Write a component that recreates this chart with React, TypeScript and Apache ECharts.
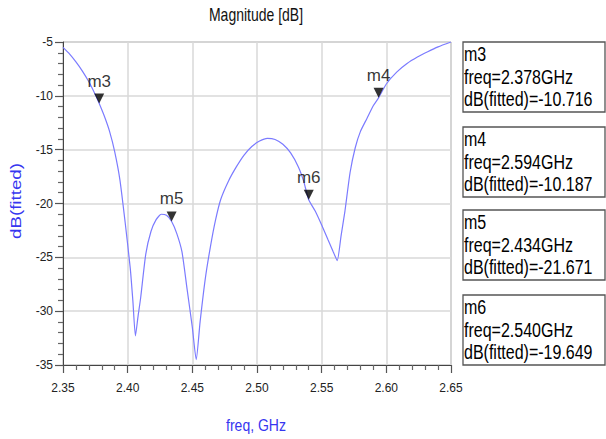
import React, { useEffect, useRef } from "react";
import * as echarts from "echarts";

const freqs = [
  2.35, 2.355, 2.36, 2.365, 2.37, 2.375, 2.378, 2.382, 2.386, 2.39, 2.394, 2.398,
  2.402, 2.404, 2.406, 2.408, 2.41, 2.414, 2.418, 2.422, 2.426, 2.43, 2.434, 2.438,
  2.442, 2.446, 2.45, 2.453, 2.456, 2.46, 2.464, 2.468, 2.472, 2.478, 2.484, 2.49,
  2.496, 2.502, 2.508, 2.514, 2.52, 2.526, 2.532, 2.536, 2.54, 2.545, 2.55, 2.555,
  2.559, 2.562, 2.565, 2.568, 2.572, 2.576, 2.58, 2.585, 2.59, 2.594, 2.6, 2.608,
  2.616, 2.624, 2.632, 2.64, 2.65,
];
const dbValues = [
  -5.5, -6.1, -6.85, -7.7, -8.7, -9.9, -10.716, -11.9, -13.3, -15.2, -17.8, -21.7,
  -26.0, -29.0, -32.3, -30.5, -28.8, -24.7, -22.6, -21.5, -21.0, -21.1, -21.671, -22.8,
  -24.5, -28.0, -31.5, -34.5, -31.0, -27.0, -24.0, -21.5, -19.6, -17.9, -16.6, -15.5,
  -14.7, -14.2, -13.95, -14.05, -14.5, -15.3, -16.6, -17.9, -19.649, -20.7, -22.0, -23.4,
  -24.5, -25.3, -23.0, -20.7, -17.1, -14.8, -13.3, -12.1, -10.9, -10.187, -8.9, -7.8,
  -7.0, -6.4, -5.9, -5.45, -5.0,
];
const markerNames = ["m3", "m4", "m5", "m6"];
const markerFreqs = [2.378, 2.594, 2.434, 2.54];
const markerValues = [-10.716, -10.187, -21.671, -19.649];

const titleText = "Magnitude [dB]";
const xName = "freq, GHz";
const yName = "dB(fitted)";

export default function App() {
  const ref = useRef<HTMLDivElement>(null);
  useEffect(() => {
    if (!ref.current) return;
    const chart = echarts.init(ref.current, null, { renderer: "svg" });
    const font = "Liberation Sans, Arial, sans-serif";
    const boxTops = [42, 127, 210, 295];
    const boxes = markerNames.map((n, i) => ({
      type: "group",
      children: [
        {
          type: "rect",
          shape: { x: 463, y: boxTops[i], width: 142, height: 70 },
          style: { fill: "#fff", stroke: "#555", lineWidth: 1.3 },
        },
        {
          type: "text",
          x: 464,
          y: boxTops[i] + 1.5,
          scaleY: 1.25,
          style: {
            text:
              n +
              "\nfreq=" +
              markerFreqs[i].toFixed(3) +
              "GHz\ndB(fitted)=" +
              markerValues[i].toFixed(3),
            fontSize: 16,
            lineHeight: 18,
            fontFamily: font,
            fill: "#000",
            align: "left",
            verticalAlign: "top",
          },
        },
      ],
    }));
    chart.setOption({
      animation: false,
      grid: {
        left: 63,
        right: 155,
        top: 42,
        bottom: 74,
        show: true,
        borderColor: "#999",
        borderWidth: 1,
      },
      xAxis: {
        type: "value",
        min: 2.35,
        max: 2.65,
        interval: 0.05,
        axisLine: { lineStyle: { color: "#444", width: 1 } },
        axisTick: { show: true, length: 8, inside: false, lineStyle: { color: "#555", width: 1.2 } },
        minorTick: { show: true, splitNumber: 5, length: 5, lineStyle: { color: "#666", width: 1.2 } },
        splitLine: { show: true, lineStyle: { color: "#d8d8d8", width: 1.5 } },
        axisLabel: {
          margin: 17,
          fontSize: 12,
          color: "#222",
          fontFamily: font,
          formatter: (v: number) => v.toFixed(2),
        },
      },
      yAxis: {
        type: "value",
        min: -35,
        max: -5,
        interval: 5,
        axisLine: { show: true, lineStyle: { color: "#444", width: 1 } },
        axisTick: { show: true, length: 8, inside: false, lineStyle: { color: "#555", width: 1.2 } },
        minorTick: { show: true, splitNumber: 5, length: 5, lineStyle: { color: "#666", width: 1.2 } },
        splitLine: { show: true, lineStyle: { color: "#d8d8d8", width: 1.5 } },
        axisLabel: { margin: 10, fontSize: 12, color: "#222", fontFamily: font },
      },
      series: [
        {
          type: "line",
          data: freqs.map((f, i) => [f, dbValues[i]]),
          showSymbol: false,
          smooth: 0.2,
          lineStyle: { color: "#7b7bff", width: 1.2 },
          z: 2,
        },
        {
          type: "scatter",
          data: markerFreqs.map((f, i) => ({ value: [f, markerValues[i]], name: markerNames[i] })),
          symbol: "triangle",
          symbolRotate: 180,
          symbolSize: [10, 10],
          symbolOffset: [0, -5],
          itemStyle: { color: "#000" },
          label: {
            show: true,
            position: "top",
            distance: 4,
            formatter: (p: any) => p.name,
            fontSize: 17,
            color: "#000",
            fontFamily: font,
          },
          z: 5,
        },
      ],
      graphic: [
        {
          type: "text",
          x: 256,
          y: 15,
          scaleY: 1.25,
          style: {
            text: titleText,
            fontSize: 14,
            fontFamily: font,
            fill: "#111",
            align: "center",
            verticalAlign: "middle",
          },
        },
        {
          type: "text",
          x: 256,
          y: 425,
          scaleY: 1.2,
          style: {
            text: xName,
            fontSize: 14,
            fontFamily: font,
            fill: "#3636f0",
            align: "center",
            verticalAlign: "middle",
          },
        },
        {
          type: "text",
          x: 16,
          y: 201,
          rotation: Math.PI / 2,
          scaleX: 1.25,
          style: {
            text: yName,
            fontSize: 15,
            fontFamily: font,
            fill: "#3636f0",
            align: "center",
            verticalAlign: "middle",
          },
        },
        ...boxes,
      ],
    });
    return () => chart.dispose();
  }, []);
  return (
    <div
      ref={ref}
      style={{ position: "fixed", left: 0, top: 0, width: 606, height: 439, background: "#fff" }}
    />
  );
}
